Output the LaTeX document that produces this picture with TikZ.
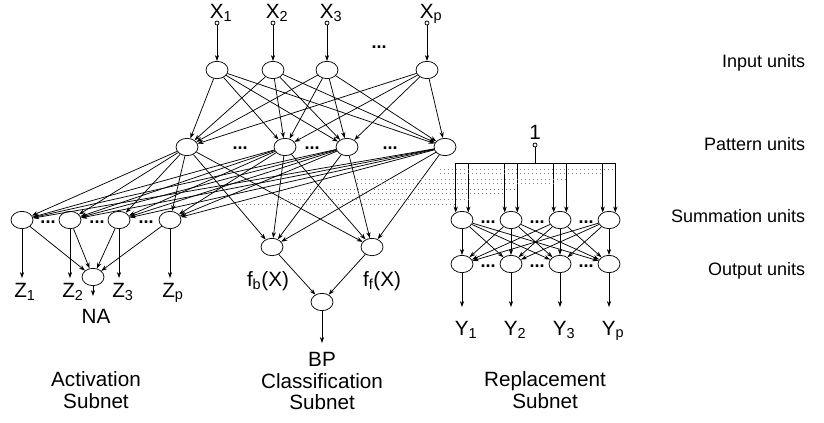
\documentclass[tikz,border=0pt]{standalone}
\usepackage{fontspec}
\setmainfont{Liberation Sans}
\usetikzlibrary{shapes.geometric,arrows.meta}
\tikzset{
  unit/.style={ellipse,draw,minimum width=16.5pt,minimum height=13pt,inner sep=0pt},
  term/.style={circle,draw,inner sep=0pt,minimum size=3pt},
  edge/.style={-{Stealth[length=4.5pt,width=3.2pt]}},
  dotline/.style={gray,line width=0.6pt,dash pattern=on 0.6pt off 2.4pt},
  gap/.style={anchor=base,font=\fontsize{13.5}{15.5}\selectfont\bfseries},
  lbl/.style={anchor=base,font=\fontsize{15.5}{17}\selectfont},
  subnet/.style={align=center,font=\fontsize{15.5}{16}\selectfont}
}
\begin{document}
\begin{tikzpicture}[x=0.75pt,y=-0.75pt,line width=0.55pt,font=\fontsize{13.5}{15.5}\selectfont]
      \useasboundingbox (0,0) rectangle (824,422);
      % input units
      \draw
        (217,23) node[term] (t1){}
        (273,23) node[term] (t2){}
        (327,23) node[term] (t3){}
        (427,23) node[term] (t4){}
        (217,70) node[unit] (i1){}
        (273,70) node[unit] (i2){}
        (327,70) node[unit] (i3){}
        (427,70) node[unit] (i4){};
      \node[lbl] (x1) at (221,18) {X\textsubscript{1}};
      \node[lbl] (x2) at (277,18) {X\textsubscript{2}};
      \node[lbl] (x3) at (331,18) {X\textsubscript{3}};
      \node[lbl] (xp) at (431,18) {X\textsubscript{p}};
      \node[gap] (g0) at (379,48) {...};
      % pattern units
      \draw
        (187,147) node[unit] (p1){}
        (285,147) node[unit] (p2){}
        (347,147) node[unit] (p3){}
        (445,147) node[unit] (p4){};
      \node[gap] (g1) at (240,149) {...};
      \node[gap] (g2) at (312,149) {...};
      \node[gap] (g3) at (390,149) {...};
      % activation subnet
      \draw
        (22,220) node[unit] (a1){}
        (70,220) node[unit] (a2){}
        (119,220) node[unit] (a3){}
        (170,220) node[unit] (a4){}
        (93,277) node[unit] (na){};
      \node[gap] (g4) at (48,223) {...};
      \node[gap] (g5) at (97,223) {...};
      \node[gap] (g6) at (146,223) {...};
      \node[lbl] (z1) at (25,297) {Z\textsubscript{1}};
      \node[lbl] (z2) at (73,297) {Z\textsubscript{2}};
      \node[lbl] (z3) at (123,297) {Z\textsubscript{3}};
      \node[lbl] (zp) at (173,297) {Z\textsubscript{p}};
      \node[lbl] (nalbl) at (96,323) {NA};
      \coordinate (z1e) at (22,278);
      \coordinate (z2e) at (70,278);
      \coordinate (z3e) at (119,278);
      \coordinate (zpe) at (170,278);
      \coordinate (nae) at (93,296);
      % classification subnet
      \draw
        (272,247) node[unit] (fb){}
        (372,247) node[unit] (ff){}
        (322,302) node[unit] (bp){};
      \node[lbl] (fblbl) at (268,286) {f\textsubscript{b}(X)};
      \node[lbl] (fflbl) at (382,286) {f\textsubscript{f}(X)};
      \coordinate (bpe) at (322,343);
      % replacement subnet
      \draw
        (535,145) node[term] (one){}
        (462,220) node[unit] (rs1){}
        (511,220) node[unit] (rs2){}
        (560,220) node[unit] (rs3){}
        (609,220) node[unit] (rs4){}
        (462,264) node[unit] (ro1){}
        (511,264) node[unit] (ro2){}
        (560,264) node[unit] (ro3){}
        (609,264) node[unit] (ro4){};
      \node[lbl] (onelbl) at (535,139) {1};
      \coordinate (bus) at (535,163);
      \node[gap] (g7) at (488,223) {...};
      \node[gap] (g8) at (537,223) {...};
      \node[gap] (g9) at (586,223) {...};
      \node[gap] (g10) at (488,267) {...};
      \node[gap] (g11) at (537,267) {...};
      \node[gap] (g12) at (586,267) {...};
      \node[lbl] (y1) at (466,335) {Y\textsubscript{1}};
      \node[lbl] (y2) at (515,335) {Y\textsubscript{2}};
      \node[lbl] (y3) at (564,335) {Y\textsubscript{3}};
      \node[lbl] (yp) at (613,335) {Y\textsubscript{p}};
      \coordinate (y1e) at (462,307);
      \coordinate (y2e) at (511,307);
      \coordinate (y3e) at (560,307);
      \coordinate (ype) at (609,307);
      % dotted rows to the replacement subnet
      \coordinate (d1) at (440,169);
      \coordinate (d2) at (440,173);
      \coordinate (d3) at (357,179);
      \coordinate (d4) at (357,183);
      \coordinate (d5) at (310,189);
      \coordinate (d6) at (290,193);
      \coordinate (d7) at (280,199);
      \coordinate (d8) at (238,204);
      % subnet names and layer names
      \node[subnet] (act) at (96,390) {Activation\\Subnet};
      \node[subnet] (cls) at (322,381) {BP\\Classification\\Subnet};
      \node[subnet] (rep) at (545,390) {Replacement\\Subnet};
      \node[anchor=east] (lin) at (810,63) {Input units};
      \node[anchor=east] (lpa) at (810,144) {Pattern units};
      \node[anchor=east] (lsu) at (810,216) {Summation units};
      \node[anchor=east] (lou) at (810,271) {Output units};
      \begin{scope}[edge]
        \draw (t1) to (i1);
        \draw (t2) to (i2);
        \draw (t3) to (i3);
        \draw (t4) to (i4);
        \draw (i1) to (p1); \draw (i1) to (p2); \draw (i1) to (p3); \draw (i1) to (p4);
        \draw (i2) to (p1); \draw (i2) to (p2); \draw (i2) to (p3); \draw (i2) to (p4);
        \draw (i3) to (p1); \draw (i3) to (p2); \draw (i3) to (p3); \draw (i3) to (p4);
        \draw (i4) to (p1); \draw (i4) to (p2); \draw (i4) to (p3); \draw (i4) to (p4);
        \draw (p1) to (a1); \draw (p1) to (a2); \draw (p1) to (a3); \draw (p1) to (a4);
        \draw (p2) to (a1); \draw (p2) to (a2); \draw (p2) to (a3); \draw (p2) to (a4);
        \draw (p3) to (a1); \draw (p3) to (a2); \draw (p3) to (a3); \draw (p3) to (a4);
        \draw (p4) to (a1); \draw (p4) to (a2); \draw (p4) to (a3); \draw (p4) to (a4);
        \draw (p1) to (fb); \draw (p2) to (fb); \draw (p3) to (fb); \draw (p4) to (fb);
        \draw (p1) to (ff); \draw (p2) to (ff); \draw (p3) to (ff); \draw (p4) to (ff);
        \draw (a1) to (na); \draw (a2) to (na); \draw (a3) to (na); \draw (a4) to (na);
        \draw (a1) to (z1e);
        \draw (a2) to (z2e);
        \draw (a3) to (z3e);
        \draw (a4) to (zpe);
        \draw (na) to (nae);
        \draw (fb) to (bp);
        \draw (ff) to (bp);
        \draw (bp) to (bpe);
        \draw (bus -| rs1.130) to (rs1.130); \draw (bus -| rs1.50) to (rs1.50);
        \draw (bus -| rs2.130) to (rs2.130); \draw (bus -| rs2.50) to (rs2.50);
        \draw (bus -| rs3.130) to (rs3.130); \draw (bus -| rs3.50) to (rs3.50);
        \draw (bus -| rs4.130) to (rs4.130); \draw (bus -| rs4.50) to (rs4.50);
        \draw (rs1) to (ro1); \draw (rs1) to (ro2); \draw (rs1) to (ro3); \draw (rs1) to (ro4);
        \draw (rs2) to (ro1); \draw (rs2) to (ro2); \draw (rs2) to (ro3); \draw (rs2) to (ro4);
        \draw (rs3) to (ro1); \draw (rs3) to (ro2); \draw (rs3) to (ro3); \draw (rs3) to (ro4);
        \draw (rs4) to (ro1); \draw (rs4) to (ro2); \draw (rs4) to (ro3); \draw (rs4) to (ro4);
        \draw (ro1) to (y1e);
        \draw (ro2) to (y2e);
        \draw (ro3) to (y3e);
        \draw (ro4) to (ype);
      \end{scope}
      \draw (one) -- (bus);
      \draw (bus -| rs1.130) -- (bus -| rs4.50);
      \begin{scope}[dotline]
        \draw (d1) -- (d1 -| rs4.50);
        \draw (d2) -- (d2 -| rs4.130);
        \draw (d3) -- (d3 -| rs3.50);
        \draw (d4) -- (d4 -| rs3.130);
        \draw (d5) -- (d5 -| rs2.50);
        \draw (d6) -- (d6 -| rs2.130);
        \draw (d7) -- (d7 -| rs1.50);
        \draw (d8) -- (d8 -| rs1.130);
      \end{scope}
    \end{tikzpicture}
\end{document}
